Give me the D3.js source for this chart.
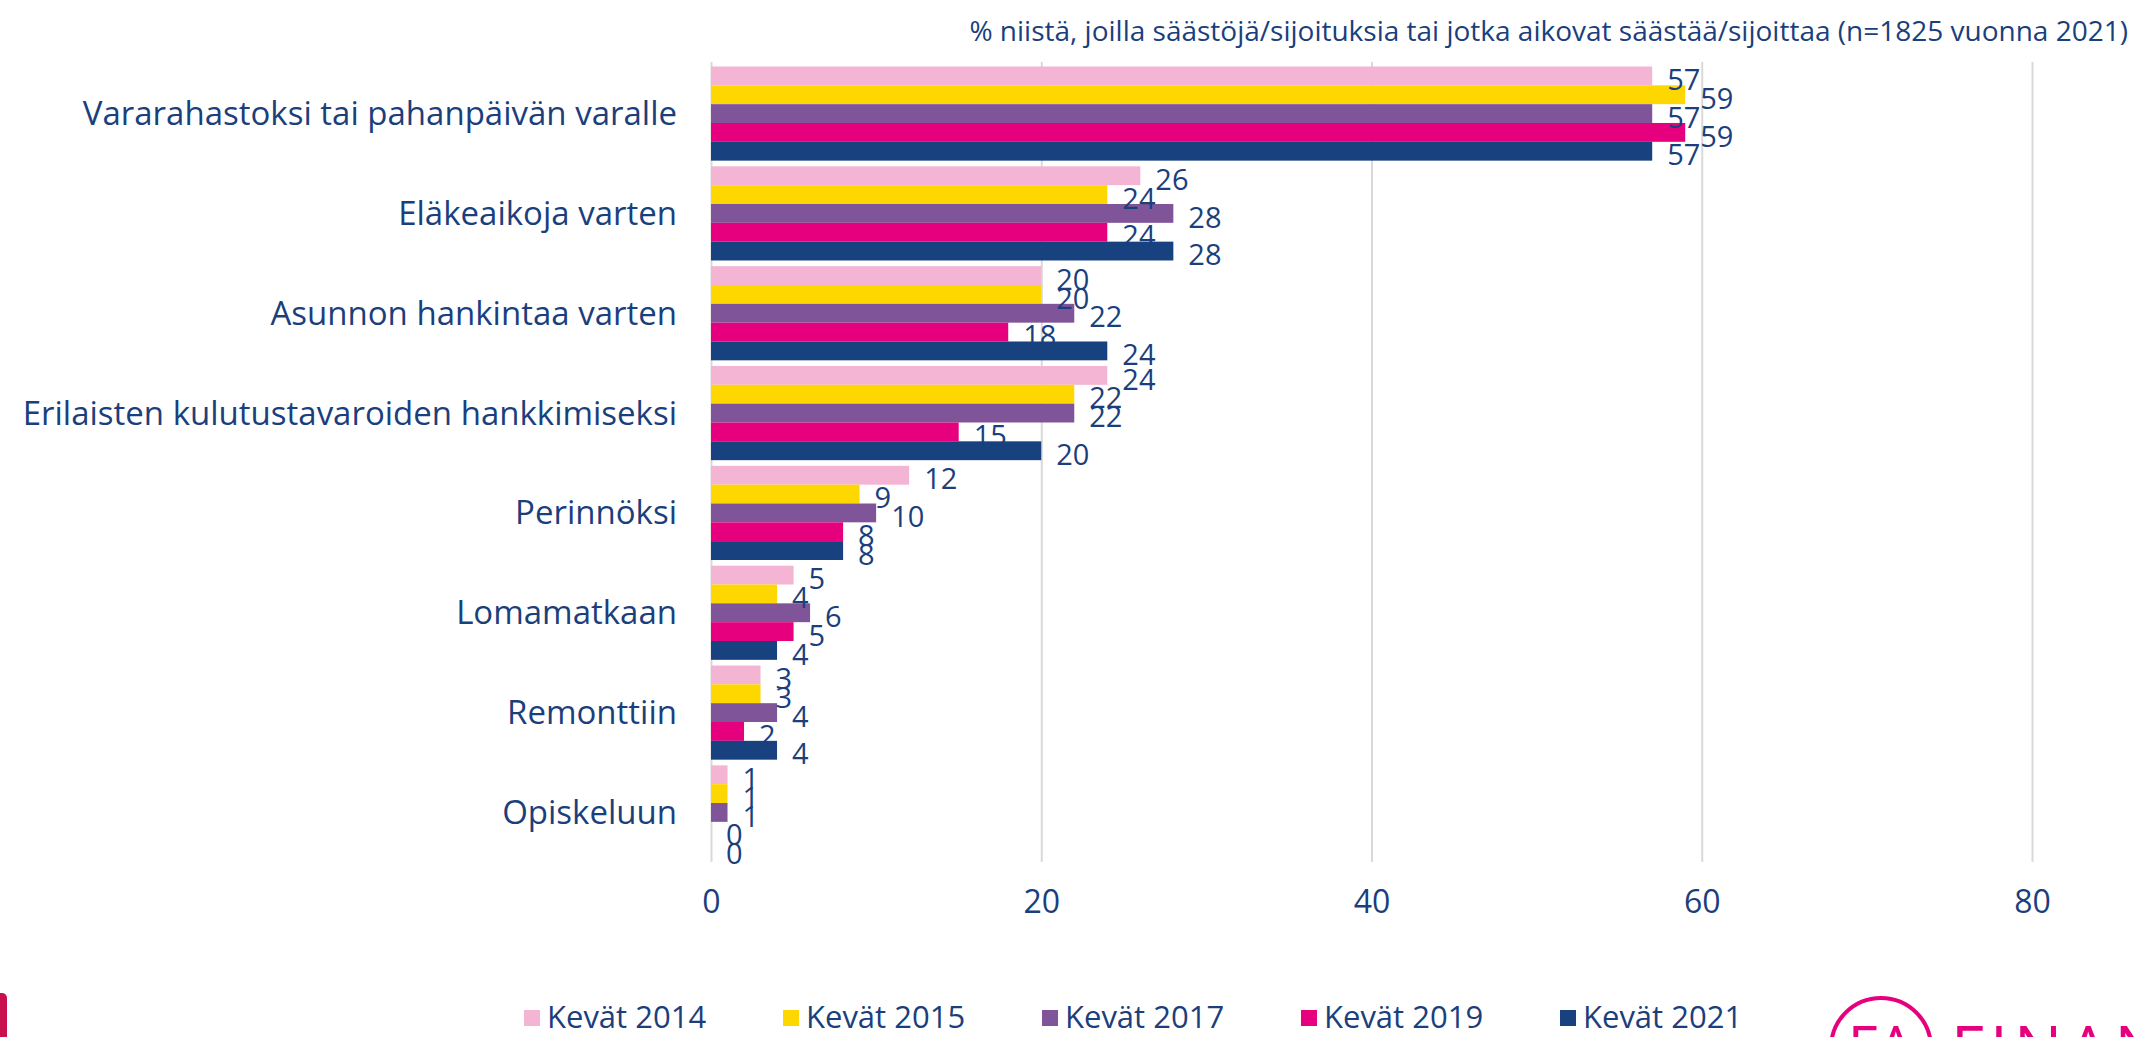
<!DOCTYPE html>
<html>
<head>
<meta charset="utf-8">
<script src="https://cdn.jsdelivr.net/npm/d3@7"></script>
<style>
  html, body { margin: 0; padding: 0; background: #fff; }
  svg { display: block; font-family: "Open Sans", sans-serif; }
</style>
</head>
<body>
<svg id="chart" width="2136" height="1037"></svg>
<script>
const categories = [
  'Vararahastoksi tai pahanpäivän varalle',
  'Eläkeaikoja varten',
  'Asunnon hankintaa varten',
  'Erilaisten kulutustavaroiden hankkimiseksi',
  'Perinnöksi',
  'Lomamatkaan',
  'Remonttiin',
  'Opiskeluun',
];
const seriesNames = ['Kevät 2014', 'Kevät 2015', 'Kevät 2017', 'Kevät 2019', 'Kevät 2021'];
const kevat2014 = [57, 26, 20, 24, 12, 5, 3, 1];
const kevat2015 = [59, 24, 20, 22, 9, 4, 3, 1];
const kevat2017 = [57, 28, 22, 22, 10, 6, 4, 1];
const kevat2019 = [59, 24, 18, 15, 8, 5, 2, 0];
const kevat2021 = [57, 28, 24, 20, 8, 4, 4, 0];
const xTicks = [0, 20, 40, 60, 80];
const colors = ['#f3b5d3', '#ffd700', '#7f5499', '#e6007e', '#17417f'];
const title = '% niistä, joilla säästöjä/sijoituksia tai jotka aikovat säästää/sijoittaa (n=1825 vuonna 2021)';

const textColor = '#1b3f7c';
const gridColor = '#d9d9d9';
const seriesValues = [kevat2014, kevat2015, kevat2017, kevat2019, kevat2021];

const svg = d3.select('#chart');

// mittakaavat
const x = d3.scaleLinear().domain([0, 80]).range([711, 2032]);
const y = d3.scaleBand()
  .domain(categories)
  .range([63.5, 862.5])
  .paddingInner(0.057)
  .paddingOuter(0.03);
const ySub = d3.scaleBand()
  .domain(seriesNames)
  .range([0, y.bandwidth()]);

// otsikko
svg.append('text')
  .attr('x', 2128)
  .attr('y', 41)
  .attr('text-anchor', 'end')
  .attr('fill', textColor)
  .attr('font-size', 28)
  .text(title);

// ruudukko
const axisBottom = d3.axisBottom(x)
  .tickValues(xTicks)
  .tickSizeInner(-(862 - 62))
  .tickSizeOuter(0)
  .tickPadding(28);
const gx = svg.append('g')
  .attr('transform', 'translate(0,862)')
  .call(axisBottom);
gx.select('.domain').remove();
gx.selectAll('.tick line').attr('stroke', gridColor).attr('stroke-width', 2);
gx.selectAll('.tick text')
  .attr('fill', textColor)
  .attr('font-size', 32)
  .attr('font-family', '"Open Sans", sans-serif');

// kategoriat
svg.append('g')
  .selectAll('text')
  .data(categories)
  .join('text')
  .attr('x', 677)
  .attr('y', d => y(d) + y.bandwidth() / 2)
  .attr('dy', '0.35em')
  .attr('text-anchor', 'end')
  .attr('fill', textColor)
  .attr('font-size', 33)
  .text(d => d);

// palkit
const rows = categories.map((c, i) => ({
  category: c,
  values: seriesNames.map((s, j) => ({ series: s, value: seriesValues[j][i], color: colors[j] })),
}));

const groups = svg.append('g')
  .selectAll('g')
  .data(rows)
  .join('g')
  .attr('transform', d => `translate(0,${y(d.category)})`);

groups.selectAll('rect')
  .data(d => d.values)
  .join('rect')
  .attr('x', x(0))
  .attr('y', d => ySub(d.series))
  .attr('width', d => x(d.value) - x(0))
  .attr('height', ySub.bandwidth())
  .attr('fill', d => d.color);

groups.selectAll('text')
  .data(d => d.values)
  .join('text')
  .attr('x', d => x(d.value) + 15)
  .attr('y', d => ySub(d.series) + ySub.bandwidth() / 2 + 4)
  .attr('dy', '0.35em')
  .attr('fill', textColor)
  .attr('font-size', 29)
  .text(d => d.value);

// selite
const legend = svg.append('g')
  .selectAll('g')
  .data(seriesNames)
  .join('g')
  .attr('transform', (d, i) => `translate(${524 + i * 259},1017)`);
legend.append('rect')
  .attr('x', 0)
  .attr('y', -7)
  .attr('width', 16)
  .attr('height', 16)
  .attr('fill', (d, i) => colors[i]);
legend.append('text')
  .attr('x', 23)
  .attr('dy', '0.35em')
  .attr('fill', textColor)
  .attr('font-size', 31)
  .text(d => d);

// logot (rajattu kuvan reunaan)
svg.append('rect')
  .attr('x', -10)
  .attr('y', 993)
  .attr('width', 17)
  .attr('height', 60)
  .attr('rx', 5)
  .attr('fill', '#c8104f');
svg.append('circle')
  .attr('cx', 1881)
  .attr('cy', 1048)
  .attr('r', 50)
  .attr('fill', 'none')
  .attr('stroke', '#e6007e')
  .attr('stroke-width', 4);
svg.append('text')
  .attr('x', 1881)
  .attr('y', 1068)
  .attr('text-anchor', 'middle')
  .attr('fill', '#e6007e')
  .attr('font-size', 58)
  .text('FA');
svg.append('text')
  .attr('x', 1951)
  .attr('y', 1072)
  .attr('fill', '#e6007e')
  .attr('font-size', 64)
  .attr('letter-spacing', 6)
  .text('FINANSSIALA');
</script>
</body>
</html>
